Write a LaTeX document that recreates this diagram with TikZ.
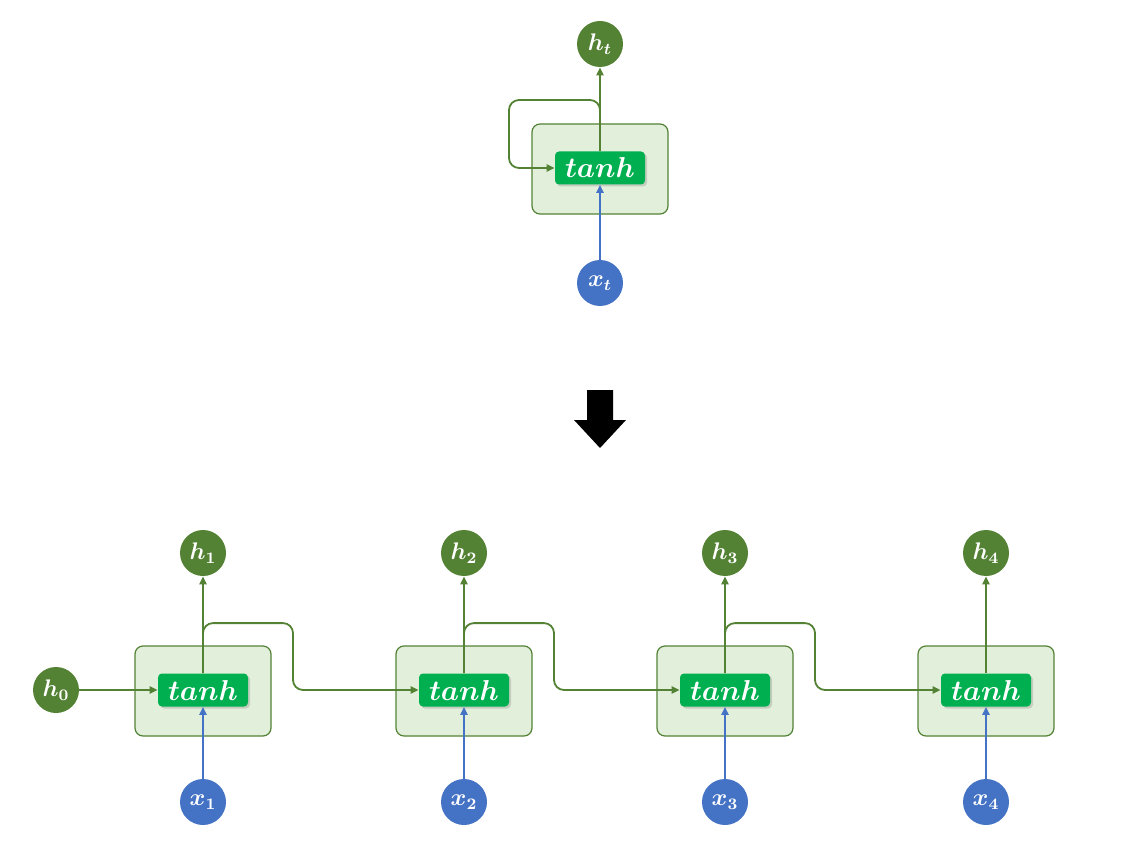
\documentclass[tikz,border=0pt]{standalone}
\usepackage{amsmath,amssymb,bm}
\usepackage{tikz}
\usetikzlibrary{arrows.meta,positioning,shadows}

\definecolor{stategreen}{HTML}{548235}
\definecolor{cellfill}{HTML}{E2EFDA}
\definecolor{actgreen}{HTML}{00B050}
\definecolor{inputblue}{HTML}{4472C4}

\begin{document}
\begin{tikzpicture}[x=0.5pt, y=-0.5pt,
  hid/.style={circle, fill=stategreen, text=white, minimum size=23pt, inner sep=0pt,
    font=\fontsize{11.5}{13}\selectfont},
  inp/.style={circle, fill=inputblue, text=white, minimum size=23pt, inner sep=0pt,
    font=\fontsize{11.5}{13}\selectfont},
  cell/.style={draw=stategreen, fill=cellfill, rounded corners=4pt, line width=0.6pt,
    minimum width=68pt, minimum height=45pt},
  act/.style={fill=actgreen, text=white, rounded corners=2pt, inner sep=0pt,
    minimum width=45pt, minimum height=16.5pt, font=\fontsize{14.5}{16}\selectfont,
    drop shadow={opacity=0.3, shadow xshift=1pt, shadow yshift=-1pt}},
  rec/.style={draw=stategreen, line width=0.9pt, rounded corners=5pt,
    -{Triangle[length=4pt, width=3.6pt]}},
  feed/.style={draw=inputblue, line width=0.9pt,
    -{Triangle[length=4pt, width=3.6pt]}}]
  \useasboundingbox (0,0) rectangle (1130,866);

  % Define nodes (folded cell)
  \node[cell] (cellt) at (600,169) {};%
  \node[act] (tanht) at (600,168) {$\bm{tanh}$};%
  \node[hid] (ht) at (600,44) {$\bm{h_t}$};%
  \node[inp] (xt) at (600,283) {$\bm{x_t}$};%

  % Define edges
  \draw[rec] (tanht) -- (ht);
  \draw[feed] (xt) -- (tanht);
  \draw[rec] (tanht.north) |- (509,100) |- (tanht.west);

  % Unfold arrow
  \fill[black] (587,390) -- (613,390) -- (613,420) -- (626,420) -- (600,448)
    -- (574,420) -- (587,420) -- cycle;

  % Unrolled cells
  \foreach \i/\x in {1/203,2/464,3/725,4/986} {
    \node[cell] (cell\i) at (\x,691) {};
    \node[act] (tanh\i) at (\x,690) {$\bm{tanh}$};
    \node[hid] (h\i) at (\x,553) {$\bm{h_{\i}}$};
    \node[inp] (x\i) at (\x,802) {$\bm{x_{\i}}$};
    \draw[rec] (tanh\i) -- (h\i);
    \draw[feed] (x\i) -- (tanh\i);
  }
  \node[hid] (h0) at (56,690) {$\bm{h_0}$};%

  % Hidden state passed along
  \draw[rec] (h0) -- (tanh1);
  \foreach \i/\j in {1/2,2/3,3/4}
    \draw[rec] (tanh\i.north) -- ++(0,-50) -- ++(90,0) |- (tanh\j.west);
\end{tikzpicture}
\end{document}
